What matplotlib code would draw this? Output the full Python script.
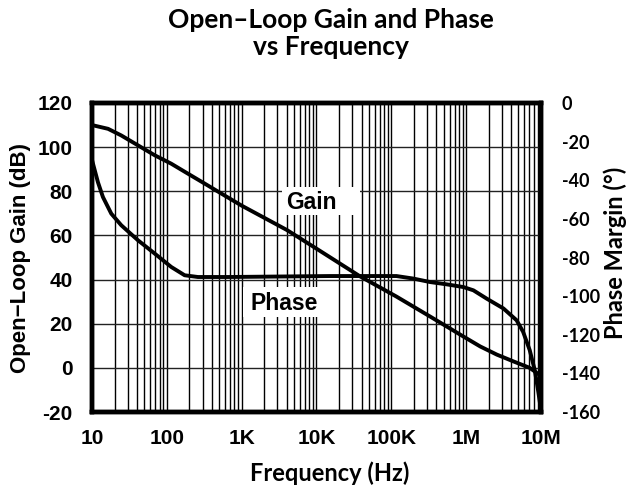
import numpy as np
import matplotlib
matplotlib.use('Agg')
import matplotlib.pyplot as plt
from matplotlib.patches import Rectangle
from matplotlib.ticker import FixedLocator, LogLocator, NullFormatter

plt.rcParams['axes.unicode_minus'] = False

# valores
freq_gain = [10, 16.4, 24.6, 41.2, 69, 114.5, 191, 320, 533, 1e3, 4e3, 10e3, 38e3,
             117e3, 328e3, 918e3, 1.54e6, 2.57e6, 4.3e6, 7.07e6, 9.5e6, 10e6]
gain_db = [110, 108.3, 105.3, 100.8, 96.3, 92.5, 88.0, 83.5, 79.0, 73.5, 62.5, 54, 41.5,
           32.3, 23.3, 14.2, 9.7, 6.0, 2.9, 0.0, -3.1, -3.5]

freq_phase = [10, 12, 14, 18.1, 24.6, 41.2, 69, 114.5, 173, 260, 656, 15.1e3, 117e3,
              196e3, 328e3, 549e3, 918e3, 1.25e6, 1.88e6, 3.15e6, 4.72e6, 5.77e6,
              7.07e6, 8.25e6, 9.13e6, 10e6]
phase_deg = [-29.5, -41, -48.7, -57.3, -63.3, -71.1, -78, -84.9, -89.2, -90.1, -90.1,
             -89.6, -89.6, -90.9, -92.7, -93.9, -95.3, -97.0, -101.3, -106.4, -112.5,
             -118.5, -128.0, -138.3, -148.7, -159]

freq_ticks = [10, 100, 1e3, 1e4, 1e5, 1e6, 1e7]
freq_labels = ['10', '100', '1K', '10K', '100K', '1M', '10M']
gain_ticks = [-20, 0, 20, 40, 60, 80, 100, 120]
phase_ticks = [-160, -140, -120, -100, -80, -60, -40, -20, 0]

arial = 'Liberation Sans'
calibri = 'Lato'

fig = plt.figure(figsize=(6.37, 4.91), dpi=100)
ax = fig.add_axes([92 / 637, 1 - 412 / 491, 449 / 637, 309 / 491])
ax2 = ax.twinx()

ax.set_xscale('log')
ax.set_xlim(10, 1e7)
ax.set_ylim(-20, 120)
ax2.set_ylim(-160, 0)

ax.xaxis.set_major_locator(FixedLocator(freq_ticks))
ax.set_xticklabels(freq_labels)
ax.xaxis.set_minor_locator(LogLocator(base=10, subs=np.arange(2, 10)))
ax.xaxis.set_minor_formatter(NullFormatter())
ax.set_yticks(gain_ticks)
ax2.set_yticks(phase_ticks)

ax.grid(True, which='both', axis='x', color='black', lw=1.0)
ax.grid(True, which='major', axis='y', color='#222222', lw=1.0)

ax.plot(freq_gain, gain_db, color='black', lw=2.8, solid_joinstyle='round',
        solid_capstyle='round', zorder=3)
ax2.plot(freq_phase, phase_deg, color='black', lw=2.8, solid_joinstyle='round',
         solid_capstyle='round', zorder=3)

ax.tick_params(axis='y', which='both', length=0, pad=14)
ax.tick_params(axis='x', which='both', length=0, pad=12)
ax2.tick_params(axis='y', length=0, pad=15)
for lab in ax.get_xticklabels() + ax.get_yticklabels():
    lab.set_fontfamily(arial)
    lab.set_fontweight('bold')
    lab.set_fontsize(15)
for lab in ax2.get_yticklabels():
    lab.set_fontfamily(calibri)
    lab.set_fontweight('bold')
    lab.set_fontsize(13)

for sp in list(ax.spines.values()) + list(ax2.spines.values()):
    sp.set_linewidth(3.2)

ax.set_ylabel('Open\u2212Loop Gain (dB)', fontfamily=arial, fontweight='bold', fontsize=16,
              va='center')
ax.yaxis.set_label_coords(-0.160, 0.498)
ax2.set_ylabel('Phase Margin (\u00b0)', fontfamily=calibri, fontweight='bold', fontsize=17,
               va='center')
ax2.yaxis.set_label_coords(1.165, 0.515)
ax.set_xlabel('Frequency (Hz)', fontfamily=calibri, fontweight='bold', fontsize=17,
              va='center')
ax.xaxis.set_label_coords(0.530, -0.197)

fig.text(331 / 637, 1 - 28 / 491, 'Open\u2013Loop Gain and Phase', ha='center', va='baseline',
         fontfamily=calibri, fontweight='bold', fontsize=19)
fig.text(331 / 637, 1 - 55 / 491, 'vs Frequency', ha='center', va='baseline',
         fontfamily=calibri, fontweight='bold', fontsize=19)

# caixas brancas por tras dos rotulos
ax.add_patch(Rectangle((0.423, 0.638), 0.174, 0.090, transform=ax.transAxes,
                       facecolor='white', edgecolor='none', zorder=4))
ax.add_patch(Rectangle((0.336, 0.307), 0.176, 0.098, transform=ax.transAxes,
                       facecolor='white', edgecolor='none', zorder=4))
ax.text(8.6e3, 75.1, 'Gain', ha='center', va='center', fontfamily=arial,
        fontweight='bold', fontsize=16.5, zorder=5)
ax.text(3.74e3, 29.3, 'Phase', ha='center', va='center', fontfamily=arial,
        fontweight='bold', fontsize=16.5, zorder=5)

plt.savefig('out.png', dpi=100)
